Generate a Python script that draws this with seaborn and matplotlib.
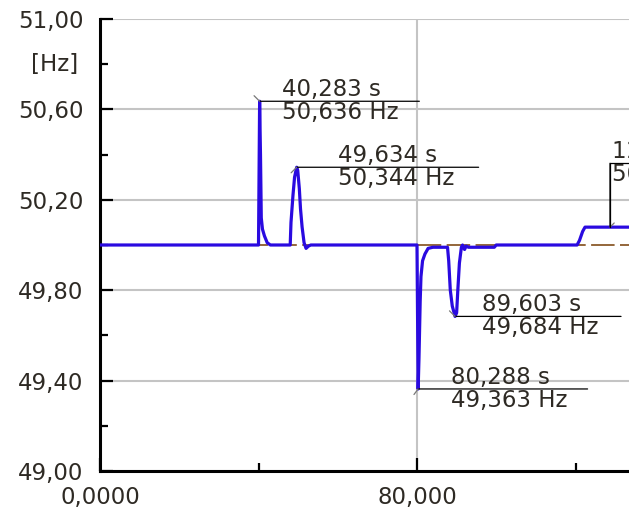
import matplotlib
matplotlib.use("Agg")
import matplotlib.pyplot as plt
from matplotlib.ticker import MultipleLocator, FuncFormatter
import seaborn as sns
import numpy as np

# ---- data ----
time_s = [0.0, 40.0, 40.283, 40.5, 40.7, 41.0, 41.5, 42.2, 43.0,
          48.0, 48.2, 48.7, 49.1, 49.634, 49.9, 50.3, 50.6, 51.0, 51.5, 52.0, 52.6, 53.2,
          80.0, 80.288, 80.5, 80.8, 81.0, 81.4, 82.0, 82.8, 84.0,
          87.7, 88.0, 88.4, 88.9, 89.603, 90.0, 90.3, 90.7, 91.2, 91.5, 92.0, 92.4, 93.0, 99.5, 100.0,
          120.4, 121.0, 121.3, 121.8, 122.4, 133.5]
freq_hz = [50.0, 50.0, 50.636, 50.40, 50.12, 50.07, 50.04, 50.01, 50.0,
           50.0, 50.10, 50.22, 50.30, 50.344, 50.33, 50.25, 50.16, 50.08, 50.01, 49.985, 49.995, 50.0,
           50.0, 49.363, 49.50, 49.75, 49.86, 49.93, 49.96, 49.985, 49.99,
           49.99, 49.93, 49.80, 49.73, 49.684, 49.70, 49.80, 49.92, 49.99, 50.0, 49.98, 49.995, 49.99, 49.99, 50.0,
           50.0, 50.02, 50.035, 50.06, 50.079, 50.079]
ref_hz = 50.0

# annotations: time, freq, label-time, label-freq
ann_t = [40.283, 49.634, 89.603, 80.288]
ann_f = [50.636, 50.344, 49.684, 49.363]
ann_t_txt = ["40,283 s", "49,634 s", "89,603 s", "80,288 s"]
ann_f_txt = ["50,636 Hz", "50,344 Hz", "49,684 Hz", "49,363 Hz"]
last_t, last_f = 128.71, 50.079
last_t_txt, last_f_txt = "128,710 s", "50,079 Hz"

x_major = 80
y_major = 0.4
y_min, y_max = 49.0, 51.0

# ---- figure ----
sns.set_style("white")
plt.rcParams['font.family'] = ['DejaVu Sans']
fig = plt.figure(figsize=(6.29, 5.14), dpi=100)
ax = fig.add_axes([100/629, 43/514, 529/629, 452/514])

txt_col = '#2e2a24'
fs = 16.5

ax.axhline(ref_hz, color='#8b5a2b', lw=1.3, linestyle=(0, (13, 3)), zorder=2)
sns.lineplot(x=time_s, y=freq_hz, ax=ax, color='#2a0ae0', lw=2.3, estimator=None, sort=False, zorder=3)

ax.set_xlim(0, 133.5)
ax.set_ylim(y_min, y_max)
ax.xaxis.set_major_locator(MultipleLocator(x_major))
ax.xaxis.set_minor_locator(MultipleLocator(x_major / 2))
ax.yaxis.set_major_locator(MultipleLocator(y_major, offset=y_min))
ax.yaxis.set_minor_locator(MultipleLocator(y_major / 2, offset=y_min))
ax.xaxis.set_major_formatter(FuncFormatter(lambda v, p: ("0,0000" if abs(v) < 1e-9 else f"{v:.3f}".replace('.', ','))))
ax.yaxis.set_major_formatter(FuncFormatter(lambda v, p: f"{v:.2f}".replace('.', ',')))

ax.grid(True, which='major', color='#c4c4c4', lw=1.5, zorder=0)
ax.set_axisbelow(True)
for s in ['top', 'right']:
    ax.spines[s].set_visible(False)
for s in ['left', 'bottom']:
    ax.spines[s].set_color('black')
    ax.spines[s].set_linewidth(2.2)

ax.tick_params(axis='both', which='both', bottom=True, left=True, top=False, right=False)
ax.tick_params(axis='both', which='major', direction='in', length=9.5, width=1.6, color='black',
               labelsize=fs, labelcolor=txt_col)
ax.tick_params(axis='both', which='minor', direction='in', length=6, width=1.6, color='black')
ax.tick_params(axis='y', which='major', pad=12)
ax.tick_params(axis='x', which='major', pad=11)
ax.set_xlabel("")
ax.set_ylabel("")

ax.annotate("[Hz]", xy=(0, 50.8), xycoords=('axes fraction', 'data'), xytext=(-16, 0),
            textcoords='offset points', ha='right', va='center', fontsize=fs, color=txt_col)

line_len = [115, 131, 119.5, 122]
txt_off = [16, 30, 19.5, 24]
mark_dir = [(-4, 4), (-4, -4), (-4, 4), (-3, -4)]
for t, f, tt, ft, L, d, m in zip(ann_t, ann_f, ann_t_txt, ann_f_txt, line_len, txt_off, mark_dir):
    ax.annotate("", xy=(t, f), xytext=(L, 0), textcoords='offset points',
                arrowprops=dict(arrowstyle='-', color='black', lw=0.9, shrinkA=0, shrinkB=0), zorder=4)
    ax.annotate("", xy=(t, f), xytext=m, textcoords='offset points',
                arrowprops=dict(arrowstyle='-', color='#777777', lw=0.9, shrinkA=0, shrinkB=0), zorder=4)
    ax.annotate(tt, xy=(t, f), xytext=(d, 0), textcoords='offset points', ha='left', va='bottom',
                fontsize=fs, color=txt_col, zorder=5)
    ax.annotate(ft, xy=(t, f), xytext=(d, 0), textcoords='offset points', ha='left', va='top',
                fontsize=fs, color=txt_col, zorder=5)

# last annotation (clipped at the right edge, as in the original)
ax.annotate("", xy=(last_t, last_f), xytext=(0, 46), textcoords='offset points',
            arrowprops=dict(arrowstyle='-', color='black', lw=0.9, shrinkA=0, shrinkB=0), zorder=4)
ax.annotate("", xy=(last_t, last_f), xytext=(3, 3), textcoords='offset points',
            arrowprops=dict(arrowstyle='-', color='#777777', lw=0.9, shrinkA=0, shrinkB=0), zorder=4)
ax.annotate("", xy=(last_t, last_f), xytext=(80, 46), textcoords='offset points',
            arrowprops=dict(arrowstyle='-', color='black', lw=0.9, shrinkA=0, shrinkB=0,
                            connectionstyle='angle,angleA=0,angleB=90,rad=0'), zorder=4)
ax.annotate(last_t_txt, xy=(last_t, last_f), xytext=(1.5, 46), textcoords='offset points',
            ha='left', va='bottom', fontsize=fs, color=txt_col, zorder=5)
ax.annotate(last_f_txt, xy=(last_t, last_f), xytext=(1.5, 46), textcoords='offset points',
            ha='left', va='top', fontsize=fs, color=txt_col, zorder=5)

fig.savefig("out.png", dpi=100)
